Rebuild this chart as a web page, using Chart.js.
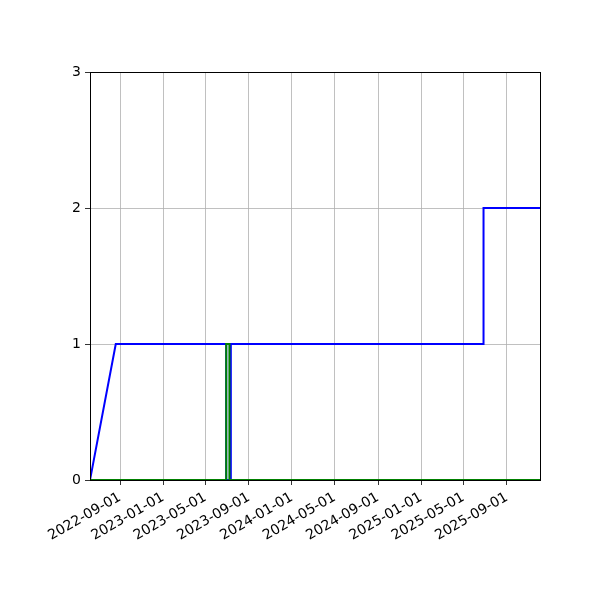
<!DOCTYPE html>
<html>
<head>
<meta charset="utf-8">
<script src="https://cdn.jsdelivr.net/npm/chart.js@4/dist/chart.umd.min.js"></script>
<style>
html,body{margin:0;padding:0;background:#fff;}
#c{display:block;}
</style>
</head>
<body>
<canvas id="c" width="600" height="600"></canvas>
<script>
const xMinDate = '2022-06-08';
const xMaxDate = '2025-12-04';
const tickDates = ['2022-09-01','2023-01-01','2023-05-01','2023-09-01','2024-01-01','2024-05-01','2024-09-01','2025-01-01','2025-05-01','2025-09-01'];
const yTicks = [0, 1, 2, 3];

const blueDates  = ['2022-06-08','2022-08-20','2023-06-29','2023-06-29','2023-07-12','2023-07-12','2025-06-27','2025-06-27','2025-12-04'];
const blueValues = [0, 1, 1, 0, 0, 1, 1, 2, 2];

const greenDates  = ['2022-06-08','2023-06-29','2023-06-29','2023-07-08','2023-07-08','2025-12-04'];
const greenValues = [0, 0, 1, 1, 0, 0];

const ts = d => Date.parse(d + 'T00:00:00Z');
const toPts = (ds, vs) => ds.map((d, i) => ({x: ts(d), y: vs[i]}));
const fmt = v => new Date(v).toISOString().slice(0, 10);

const frame = {
  id: 'frame',
  afterDatasetsDraw(chart) {
    const {ctx, chartArea: a} = chart;
    ctx.save();
    ctx.strokeStyle = '#000';
    ctx.lineWidth = 1;
    ctx.strokeRect(Math.round(a.left) + 0.5, Math.round(a.top) + 0.5, Math.round(a.right - a.left), Math.round(a.bottom - a.top));
    ctx.restore();
  }
};

new Chart(document.getElementById('c'), {
  type: 'line',
  data: {
    datasets: [
      {data: toPts(greenDates, greenValues), borderColor: '#008000', borderWidth: 2, pointRadius: 0, fill: false, tension: 0, order: 0},
      {data: toPts(blueDates, blueValues), borderColor: '#0000ff', borderWidth: 2, pointRadius: 0, fill: false, tension: 0, order: 1}
    ]
  },
  options: {
    responsive: false,
    animation: false,
    devicePixelRatio: 1,
    layout: {padding: {top: 72, right: 60, left: 0, bottom: 0}},
    plugins: {legend: {display: false}, tooltip: {enabled: false}},
    scales: {
      x: {
        type: 'linear',
        min: ts(xMinDate),
        max: ts(xMaxDate),
        afterBuildTicks: s => { s.ticks = tickDates.map(d => ({value: ts(d)})); },
        afterFit: s => { s.height = 120; },
        ticks: {
          callback: v => fmt(v),
          maxRotation: 30, minRotation: 30,
          autoSkip: false,
          color: '#000',
          font: {family: 'DejaVu Sans', size: 14},
          padding: 4
        },
        grid: {color: '#b0b0b0', lineWidth: 0.8, tickColor: '#000', tickLength: 5, drawTicks: true},
        border: {color: '#000', width: 1}
      },
      y: {
        type: 'linear',
        min: 0, max: 3,
        afterBuildTicks: s => { s.ticks = yTicks.map(v => ({value: v})); },
        afterFit: s => { s.width = 90; },
        ticks: {
          color: '#000',
          font: {family: 'DejaVu Sans', size: 14},
          padding: 4
        },
        grid: {color: '#b0b0b0', lineWidth: 0.8, tickColor: '#000', tickLength: 5},
        border: {color: '#000', width: 1}
      }
    }
  },
  plugins: [frame]
});
</script>
</body>
</html>
